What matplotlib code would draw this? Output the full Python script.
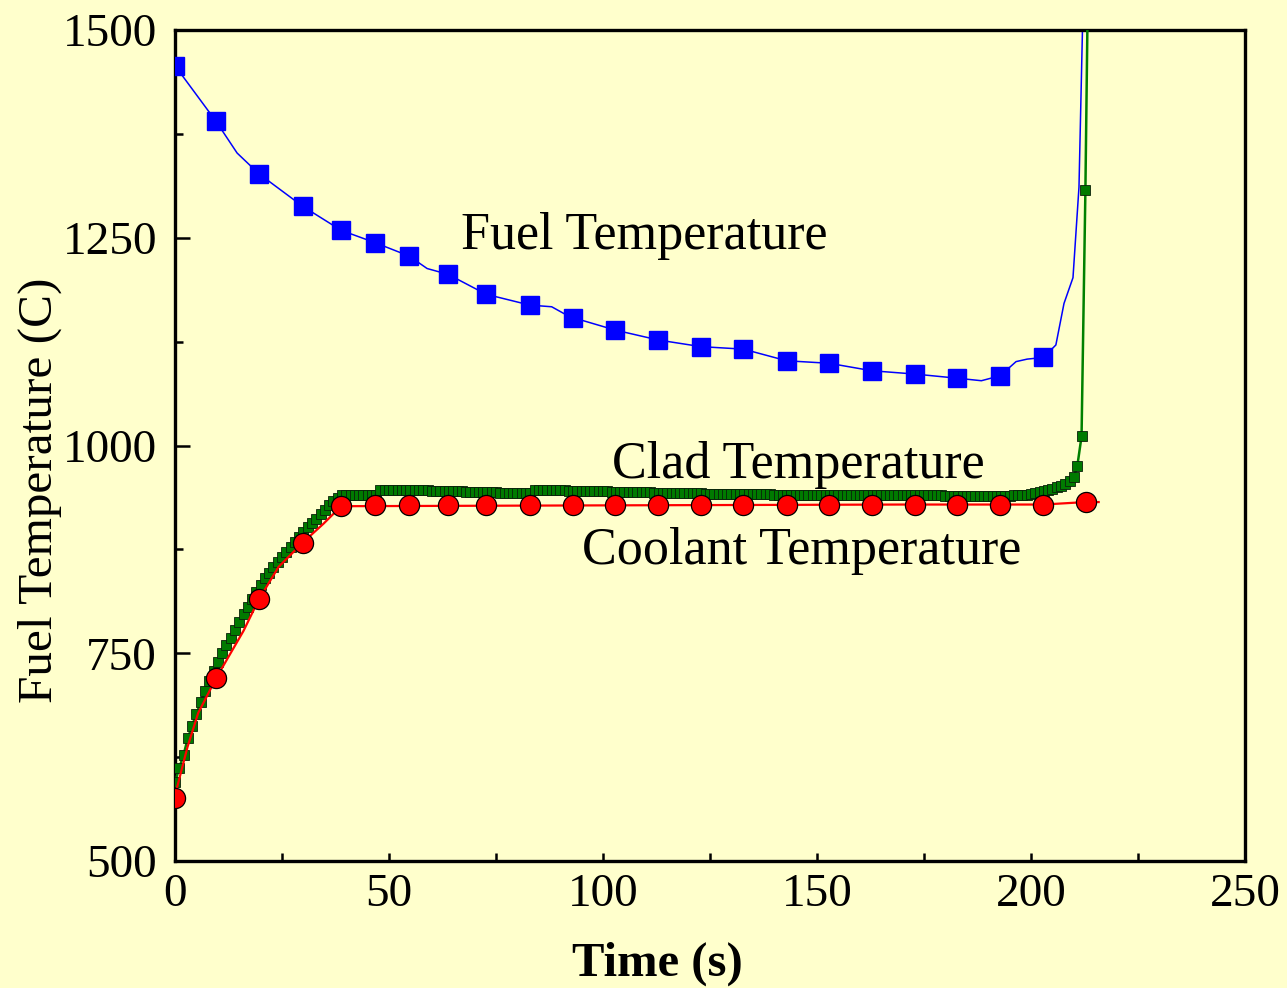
"""Fuel / clad / coolant temperature transient."""

import matplotlib
matplotlib.use("Agg")
import matplotlib.pyplot as plt
from matplotlib.ticker import MultipleLocator

BG = "#FFFFCC"

plt.rcParams.update({
    "font.family": "serif",
    "font.serif": ["Liberation Serif", "DejaVu Serif"],
    "font.size": 34,
})

# ---- data ----
marker_time = [0, 9.6, 19.6, 29.8, 38.8, 46.8, 54.7, 63.8, 72.7, 82.9, 92.9,
               102.8, 112.9, 122.9, 132.8, 142.9, 152.8, 162.8, 172.9, 182.8,
               192.8, 202.9]

fuel_marker = [1457, 1390, 1327, 1288, 1259, 1244, 1228, 1206, 1182, 1169,
               1154, 1139, 1127, 1119, 1116, 1102, 1099, 1090, 1086, 1081,
               1084, 1106]

fuel_line_time = [0, 9.6, 14.5, 19.6, 29.8, 38.8, 46.8, 54.7, 58.9, 63.8,
                  72.7, 82.9, 88.0, 90.8, 92.9, 102.8, 112.9, 122.9, 132.8,
                  142.9, 152.8, 162.8, 172.9, 182.8, 188.4, 192.8, 196.5,
                  199.1, 202.9, 205.8, 207.7, 209.8, 211.2, 212.1]
fuel_line = [1457, 1390, 1352, 1327, 1288, 1259, 1244, 1228, 1213, 1206,
             1182, 1169, 1167, 1159, 1154, 1139, 1127, 1119, 1116, 1102,
             1099, 1090, 1086, 1081, 1078, 1084, 1101, 1104, 1106, 1121,
             1171, 1202, 1311, 1520]

clad_time = list(range(210)) + [210.0, 210.8, 211.8, 212.7, 213.3]
clad = [
    595, 612, 628, 648, 663, 677, 691, 705, 717, 729,
    740, 750, 760, 769, 778, 788, 797, 806, 815, 824,
    832, 840, 847, 854, 860, 866, 872, 878, 884, 890,
    896, 902, 907, 912, 918, 923, 928, 933, 937, 940,
    941, 941, 941, 941, 941, 941, 941, 941, 947, 947,
    947, 947, 947, 946, 946, 946, 946, 946, 946, 946,
    945, 945, 945, 945, 945, 945, 945, 945, 944, 944,
    944, 944, 944, 944, 944, 944, 943, 943, 943, 943,
    943, 943, 943, 943, 946, 946, 946, 946, 946, 946,
    946, 946, 945, 945, 945, 945, 945, 945, 945, 945,
    945, 945, 944, 944, 944, 944, 944, 944, 944, 944,
    944, 944, 943, 943, 943, 943, 943, 943, 943, 943,
    943, 943, 943, 943, 942, 942, 942, 942, 942, 942,
    942, 942, 942, 942, 942, 942, 942, 942, 942, 942,
    941, 941, 941, 941, 941, 941, 941, 941, 941, 941,
    941, 941, 941, 941, 941, 941, 941, 941, 941, 941,
    940, 940, 940, 940, 940, 940, 940, 940, 940, 940,
    940, 940, 940, 940, 940, 940, 940, 940, 940, 940,
    939, 939, 939, 939, 939, 939, 939, 939, 939, 939,
    939, 939, 939, 939, 939, 939, 940, 940, 941, 941,
    942, 943, 944, 945, 946, 948, 950, 951, 954, 957,
    962, 975, 1011, 1307, 1560,
]

coolant_marker_time = marker_time + [212.8]
coolant_marker = [576, 720, 815, 883, 927, 928, 928, 928, 928, 928, 928,
                  928, 928, 928, 928, 928, 928, 928, 929, 929, 929, 929, 932]

coolant_line_time = [0, 0.5, 2.9, 5.4, 9.6, 16.0, 19.6, 24.2, 29.8, 34.7,
                     38.8, 100, 170, 202.9, 212.8, 215.8]
coolant_line = [576, 589, 637, 678, 720, 777, 815, 854, 883, 906,
                927, 928, 929, 929, 932, 932]

# ---- figure ----
fig = plt.figure(figsize=(12.87, 9.88), dpi=100, facecolor=BG)
ax = fig.add_axes([0.136, 0.1285, 0.8314, 0.8411], facecolor=BG)

ax.plot(fuel_line_time, fuel_line, color="#0000FF", lw=1.1, zorder=2)
ax.plot(marker_time, fuel_marker, ls="none", marker="s", ms=13,
        mfc="#0000FF", mec="#0000FF", zorder=3)

ax.plot(clad_time, clad, color="#008000", lw=1.8, marker="s", ms=7,
        mfc="#007A00", mec="#0A200A", mew=0.6, zorder=4)

ax.plot(coolant_line_time, coolant_line, color="#FF0000", lw=1.6, zorder=5)
ax.plot(coolant_marker_time, coolant_marker, ls="none", marker="o", ms=14.5,
        mfc="#FF0000", mec="black", mew=0.9, zorder=6)

ax.text(66.8, 1236, "Fuel Temperature", ha="left", va="baseline", fontsize=37.5)
ax.text(102.2, 961, "Clad Temperature", ha="left", va="baseline", fontsize=37.5)
ax.text(95.2, 857, "Coolant Temperature", ha="left", va="baseline", fontsize=37.5)

ax.set_xlim(0, 250)
ax.set_ylim(500, 1500)
ax.xaxis.set_major_locator(MultipleLocator(50))
ax.xaxis.set_minor_locator(MultipleLocator(25))
ax.yaxis.set_major_locator(MultipleLocator(250))
ax.yaxis.set_minor_locator(MultipleLocator(125))

ax.tick_params(axis="x", which="both", direction="in", length=6, width=1.8,
               pad=9, labelsize=34)
ax.tick_params(axis="y", which="major", direction="in", length=11, width=1.8,
               pad=13, labelsize=34)
ax.tick_params(axis="y", which="minor", direction="in", length=6, width=1.8)
for side in ("top", "right", "bottom", "left"):
    ax.spines[side].set_linewidth(2.4)

ax.set_xlabel("Time (s)", fontweight="bold", fontsize=35)
ax.set_ylabel("Fuel Temperature (C)", fontsize=35.5)
ax.xaxis.set_label_coords(0.451, -0.097)
ax.yaxis.set_label_coords(-0.106, 0.446)

fig.savefig("out.png", dpi=100, facecolor=BG)
